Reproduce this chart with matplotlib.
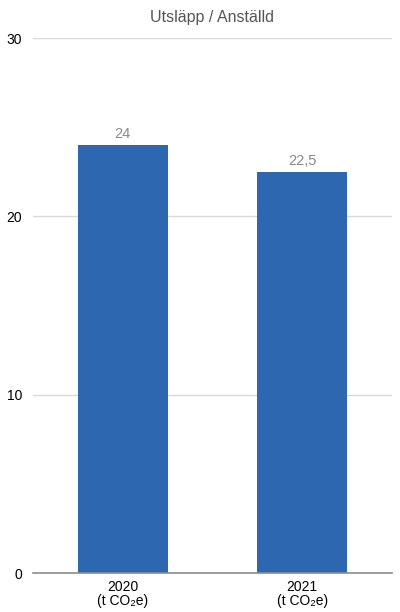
import numpy as np
import matplotlib
matplotlib.use('Agg')
import matplotlib.pyplot as plt

plt.rcParams['font.family'] = ['Liberation Sans', 'DejaVu Sans']

# data
years = ['2020', '2021']
values = [24, 22.5]
value_labels = ['24', '22,5']
unit = '(t CO\u2082e)'
yticks = [0, 10, 20, 30]

fig = plt.figure(figsize=(4, 6.12), dpi=100)
ax = fig.add_axes([0.0825, 0.0637, 0.8975, 0.8742])

x = np.arange(len(years))
bars = ax.bar(x, values, width=0.5, color='#2d67b0', zorder=3)

for b, lab in zip(bars, value_labels):
    ax.text(b.get_x() + b.get_width() / 2, b.get_height() + 0.2, lab,
            ha='center', va='bottom', fontsize=10.5, color='#8a8a8a')

ax.set_xlim(-0.5, len(years) - 0.5)
ax.set_ylim(0, 30)
ax.set_yticks(yticks)
ax.set_yticklabels([str(t) for t in yticks], fontsize=10)
ax.set_xticks(x)
ax.set_xticklabels([f'{y}\n{unit}' for y in years], fontsize=10, linespacing=1.0)
ax.tick_params(axis='both', length=0)
ax.tick_params(axis='y', pad=8)
ax.tick_params(axis='x', pad=5)

ax.yaxis.grid(True, color='#d9d9d9', linewidth=1, zorder=0)
for s in ['top', 'right', 'left']:
    ax.spines[s].set_visible(False)
ax.spines['bottom'].set_color('#8c8c8c')
ax.spines['bottom'].set_linewidth(1.2)
ax.spines['bottom'].set_zorder(4)

fig.text(0.53, 0.972, 'Utsläpp / Anställd', ha='center', va='center',
         fontsize=11.5, color='#555555')

fig.savefig('out.png', dpi=100)
